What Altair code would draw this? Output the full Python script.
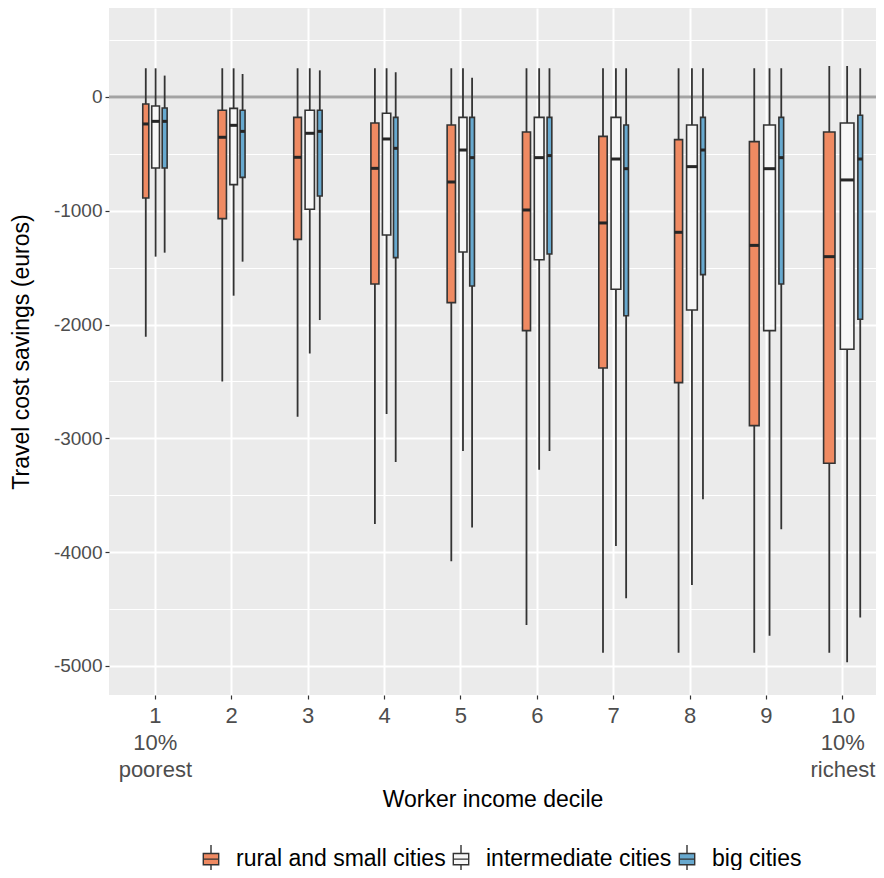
import altair as alt
import pandas as pd

# ---------------- data ----------------
deciles = [1, 2, 3, 4, 5, 6, 7, 8, 9, 10]
x_labels = [["1", "10%", "poorest"], ["2"], ["3"], ["4"], ["5"], ["6"], ["7"],
            ["8"], ["9"], ["10", "10%", "richest"]]
groups = ["rural and small cities", "intermediate cities", "big cities"]
colors = ["#EF8A62", "#F7F7F7", "#67A9CF"]

rural_upper = [252, 252, 252, 252, 252, 252, 252, 252, 252, 272]
rural_q3 = [-62, -117, -179, -228, -246, -307, -346, -375, -392, -307]
rural_median = [-237, -354, -530, -627, -747, -993, -1107, -1189, -1304, -1403]
rural_q1 = [-887, -1069, -1251, -1643, -1807, -2053, -2381, -2510, -2888, -3219]
rural_lower = [-2106, -2501, -2809, -3752, -4080, -4640, -4883, -4883, -4883, -4883]
rural_width = [0.079, 0.109, 0.101, 0.105, 0.109, 0.105, 0.110, 0.105, 0.127, 0.149]

inter_upper = [252, 252, 252, 252, 252, 252, 252, 252, 252, 272]
inter_q3 = [-79, -100, -117, -143, -179, -179, -179, -246, -246, -228]
inter_median = [-214, -249, -319, -369, -466, -533, -545, -612, -630, -729]
inter_q1 = [-624, -770, -987, -1213, -1362, -1430, -1690, -1872, -2053, -2217]
inter_lower = [-1403, -1746, -2253, -2786, -3111, -3275, -3946, -4288, -4734, -4968]
inter_width = [0.101, 0.099, 0.122, 0.109, 0.105, 0.127, 0.127, 0.140, 0.153, 0.178]

big_upper = [188, 202, 234, 217, 170, 252, 252, 252, 252, 252]
big_q3 = [-97, -117, -117, -179, -179, -179, -246, -179, -179, -161]
big_median = [-214, -302, -302, -451, -533, -515, -630, -466, -533, -545]
big_q1 = [-624, -706, -870, -1412, -1661, -1380, -1922, -1561, -1643, -1953]
big_lower = [-1368, -1447, -1960, -3207, -3784, -3111, -4405, -3535, -3799, -4573]
big_width = [0.065, 0.065, 0.062, 0.058, 0.062, 0.062, 0.060, 0.062, 0.062, 0.062]

y_ticks = [-5000, -4500, -4000, -3500, -3000, -2500, -2000, -1500, -1000, -500, 0, 500]

series = [
    (rural_upper, rural_q3, rural_median, rural_q1, rural_lower, rural_width),
    (inter_upper, inter_q3, inter_median, inter_q1, inter_lower, inter_width),
    (big_upper, big_q3, big_median, big_q1, big_lower, big_width),
]

# ---------------- dodge (varwidth boxes packed side by side) ----------------
PAD = 0.3
rows = []
for i, d in enumerate(deciles):
    slots = [s[5][i] / (1 - PAD) for s in series]
    start = d - sum(slots) / 2
    acc = 0.0
    for g, s, slot in zip(groups, series, slots):
        c = start + acc + slot / 2
        acc += slot
        w = s[5][i]
        rows.append({
            "decile": d, "group": g, "xc": c, "xmin": c - w / 2, "xmax": c + w / 2,
            "upper": s[0][i], "q3": s[1][i], "median": s[2][i],
            "q1": s[3][i], "lower": s[4][i],
        })
df = pd.DataFrame(rows)

FONT = "Liberation Sans"
x_scale = alt.Scale(domain=[0.4, 10.44], nice=False, zero=False)
y_scale = alt.Scale(domain=[-5255, 782], nice=False, zero=False)

label_expr = "[" + ",".join("[" + ",".join("'" + t + "'" for t in lab) + "]" for lab in x_labels) + "][datum.value - 1]"

x_axis = alt.Axis(
    values=deciles, labelExpr=label_expr, title="Worker income decile",
    grid=True, gridColor="white", gridWidth=2, domain=False,
    tickColor="#333333", tickSize=4, tickWidth=1.2,
    labelFont=FONT, labelFontSize=22, labelColor="#4D4D4D", labelLineHeight=27,
    labelPadding=6, labelBaseline="top",
    titleFont=FONT, titleFontSize=23, titleFontWeight="normal", titleColor="black",
    titlePadding=8,
)
y_axis = alt.Axis(
    values=y_ticks,
    labelExpr="datum.value % 1000 == 0 ? '' + datum.value : ''",
    title="Travel cost savings (euros)",
    grid=True, gridColor="white",
    gridWidth={"condition": {"test": "datum.value % 1000 == 0", "value": 2}, "value": 1},
    tickOpacity={"condition": {"test": "datum.value % 1000 == 0", "value": 1}, "value": 0},
    domain=False, tickColor="#333333", tickSize=4, tickWidth=1.2,
    labelFont=FONT, labelFontSize=19, labelColor="#4D4D4D", labelPadding=3,
    titleFont=FONT, titleFontSize=23, titleFontWeight="normal", titleColor="black",
    titlePadding=20,
)

base = alt.Chart(df)

zero = alt.Chart(pd.DataFrame({"v": [0]})).mark_rule(color="#A3A3A3", strokeWidth=3).encode(
    y=alt.Y("v:Q", scale=y_scale, axis=y_axis),
)

whiskers = base.mark_rule(color="#333333", strokeWidth=1.8).encode(
    x=alt.X("xc:Q", scale=x_scale, axis=x_axis),
    y=alt.Y("lower:Q", scale=y_scale, axis=y_axis),
    y2="upper:Q",
)

legend_path = "M-0.55,-0.4H0.55V0.4H-0.55Z M-0.55,0H0.55 M0,-0.4V-1 M0,0.4V1"

boxes = base.mark_rect(stroke="#333333", strokeWidth=1.6).encode(
    x=alt.X("xmin:Q", scale=x_scale, axis=x_axis),
    x2="xmax:Q",
    y=alt.Y("q1:Q", scale=y_scale, axis=y_axis),
    y2="q3:Q",
    fill=alt.Fill("group:N", scale=alt.Scale(domain=groups, range=colors),
                  legend=alt.Legend(
                      title=None, orient="none", direction="horizontal",
                      legendX=87, legendY=836,
                      symbolType=legend_path, symbolSize=784,
                      symbolStrokeColor="#333333", symbolStrokeWidth=1.4,
                      symbolOpacity=1,
                      labelFont=FONT, labelFontSize=23, labelColor="black",
                      labelLimit=400, labelOffset=10, columnPadding=0,
                  )),
)

medians = base.mark_rule(color="#262626", strokeWidth=3).encode(
    x=alt.X("xmin:Q", scale=x_scale, axis=x_axis),
    x2="xmax:Q",
    y=alt.Y("median:Q", scale=y_scale, axis=y_axis),
)

chart = alt.layer(zero, whiskers, boxes, medians).properties(
    width=767, height=687,
    autosize=alt.AutoSizeParams(type="none"),
    padding={"left": 101, "top": 0, "right": 0, "bottom": 175},
).configure(background="white").configure_view(fill="#EBEBEB", stroke=None)

chart.save("out.html", embed_options={"renderer": "svg", "actions": False})
